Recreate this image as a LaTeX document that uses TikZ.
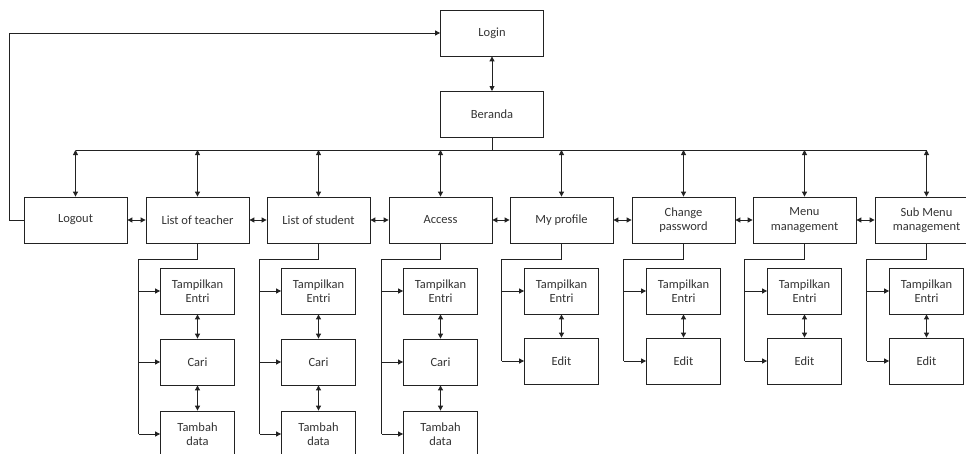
\documentclass[tikz,border=0pt]{standalone}
\usepackage{fontspec}
\setmainfont{Carlito}
\usetikzlibrary{arrows.meta}
\definecolor{ink}{HTML}{222222}
\definecolor{txt}{HTML}{333333}
\begin{document}
\begin{tikzpicture}[x=1pt,y=-1pt,
  font=\fontsize{12.5}{14.5}\selectfont,
  menubox/.style={draw=ink,line width=0.8pt,text=txt,minimum width=103pt,
    minimum height=46pt,inner sep=0pt,align=center},
  subbox/.style={menubox,minimum width=74pt},
  link/.style={draw=ink,line width=0.9pt},
  both/.style={link,{Triangle[length=5pt,width=5pt]}-{Triangle[length=5pt,width=5pt]}},
  to/.style={link,-{Triangle[length=5pt,width=5pt]}}]
\useasboundingbox (0,0) rectangle (966,453);

% top of the menu
\node[menubox] (login) at (492,33) {Login};
\node[menubox] (beranda) at (492,114) {Beranda};
\draw[both] (login.south) -- (beranda.south |- 0,91);

% main menu row
\node[menubox] (logout)  at (75.5,220)  {Logout};
\node[menubox] (teacher) at (197.5,220) {List of teacher};
\node[menubox] (student) at (318.5,220) {List of student};
\node[menubox] (access)  at (440.5,220) {Access};
\node[menubox] (profile) at (561.5,220) {My profile};
\node[menubox] (change)  at (683.5,220) {Change\\password};
\node[menubox] (menu)    at (804.5,220) {Menu\\management};
\node[menubox] (submenu) at (926.5,220) {Sub Menu\\management};

% bus from Beranda to every menu item
\coordinate (busL) at (75.5,150);
\coordinate (busR) at (926.5,150);
\draw[link] (beranda.south) -- (beranda.south |- busL);
\draw[link] (busL) -- (busR);
\foreach \n in {logout,teacher,student,access,profile,change,menu,submenu}
  \draw[both] (\n.north |- busL) -- (\n.north);

% links between neighbouring items
\foreach \a/\b in {logout/teacher,teacher/student,student/access,access/profile,
                   profile/change,change/menu,menu/submenu}
  \draw[both] (\a.east) -- (\b.west);

% logout returns to login
\draw[to] (logout.west) -- ++(-14,0) |- (login.west);

% sub-pages with search and add
\foreach \p in {teacher,student,access}{
  \node[subbox] (\p A) at (\p.south |- 0,291) {Tampilkan\\Entri};
  \node[subbox] (\p B) at (\p.south |- 0,362) {Cari};
  \node[subbox] (\p C) at (\p.south |- 0,434) {Tambah\\data};
  \coordinate (\p T) at ([xshift=-7pt]\p.west |- 0,259);
  \draw[link] (\p.south) -- (\p.south |- \p T) -- (\p T) -- (\p T |- \p C.west);
  \foreach \c in {A,B,C}
    \draw[to] (\p T |- \p\c.west) -- (\p\c.west);
  \draw[both] (\p A.south) -- (\p B.north);
  \draw[both] (\p B.south) -- (\p C.north);
}

% sub-pages with edit
\foreach \p in {profile,change,menu,submenu}{
  \node[subbox] (\p A) at (\p.south |- 0,291) {Tampilkan\\Entri};
  \node[subbox] (\p B) at (\p.south |- 0,361) {Edit};
  \coordinate (\p T) at ([xshift=-8pt]\p.west |- 0,259);
  \draw[link] (\p.south) -- (\p.south |- \p T) -- (\p T) -- (\p T |- \p B.west);
  \foreach \c in {A,B}
    \draw[to] (\p T |- \p\c.west) -- (\p\c.west);
  \draw[both] (\p A.south) -- (\p B.north);
}
\end{tikzpicture}
\end{document}
